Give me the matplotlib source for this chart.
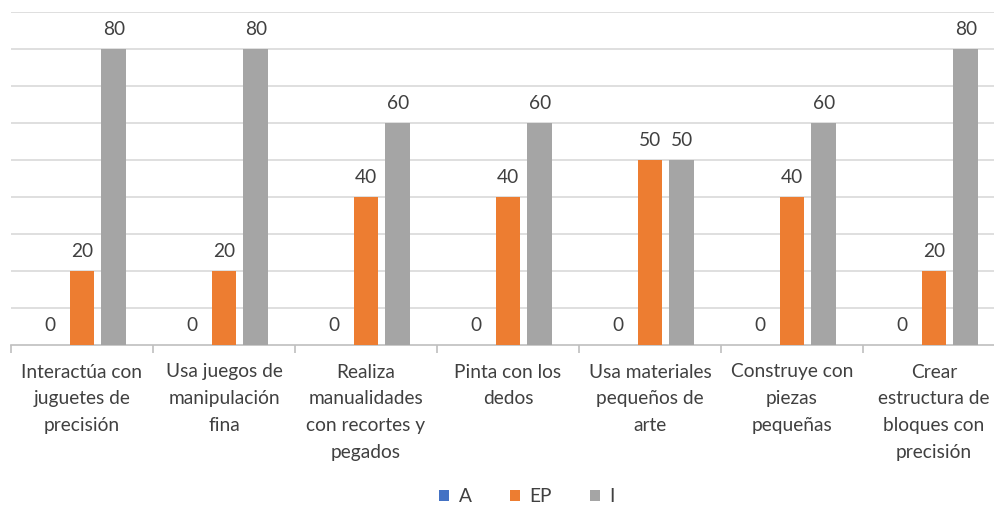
import numpy as np
import matplotlib.pyplot as plt

plt.rcParams['font.family'] = ['Lato', 'DejaVu Sans']

# --- Data ---
categories = [
    "Interactúa con\njuguetes de\nprecisión",
    "Usa juegos de\nmanipulación\nfina",
    "Realiza\nmanualidades\ncon recortes y\npegados",
    "Pinta con los\ndedos",
    "Usa materiales\npequeños de\narte",
    "Construye con\npiezas\npequeñas",
    "Crear\nestructura de\nbloques con\nprecisión",
]
serie_a = [0, 0, 0, 0, 0, 0, 0]
serie_ep = [20, 20, 40, 40, 50, 40, 20]
serie_i = [80, 80, 60, 60, 50, 60, 80]

series = [("A", serie_a, "#4472C4"),
          ("EP", serie_ep, "#ED7D31"),
          ("I", serie_i, "#A5A5A5")]

# --- Figure ---
W, H = 995, 508
fig = plt.figure(figsize=(W / 100, H / 100), dpi=100)
# plot area runs slightly past the right edge (cropped like the original)
ax = fig.add_axes([11 / W, (H - 345) / H, 994 / W, 333 / H])

x = np.arange(len(categories))
bar_w = 0.176
step = 0.225
text_col = "#404040"
fs = 13.8

for i, (name, vals, col) in enumerate(series):
    pos = x + (i - 1) * step
    ax.bar(pos, vals, width=bar_w, color=col, label=name, zorder=3)
    for px, v in zip(pos, vals):
        ax.text(px, v + 3.0, f"{v}", ha="center", va="bottom",
                fontsize=fs, color=text_col, zorder=4)

ax.set_xlim(-0.5, len(categories) - 0.5)
ax.set_ylim(0, 90)
ax.set_yticks(np.arange(10, 91, 10))
ax.set_yticklabels([])
ax.tick_params(axis="y", length=0)
ax.grid(axis="y", color="#D9D9D9", linewidth=1.2, zorder=0)

# category labels and boundary ticks
ax.set_xticks(np.arange(-0.5, len(categories), 1.0))
ax.set_xticklabels([])
ax.tick_params(axis="x", direction="out", length=6, width=1.2, color="#BFBFBF")
for xi, lab in zip(x, categories):
    ax.text(xi, -5.0, lab, ha="center", va="top", fontsize=fs,
            color=text_col, linespacing=1.7)

for s in ["top", "right", "left"]:
    ax.spines[s].set_visible(False)
ax.spines["bottom"].set_color("#BFBFBF")
ax.spines["bottom"].set_linewidth(1.2)

leg = fig.legend(loc="center", bbox_to_anchor=(527 / W, 1 - 497 / H), ncol=3,
                 frameon=False, fontsize=fs, handlelength=0.5, handleheight=0.5,
                 handletextpad=0.5, columnspacing=2.0)
for t in leg.get_texts():
    t.set_color(text_col)

fig.savefig("out.png", dpi=100)
